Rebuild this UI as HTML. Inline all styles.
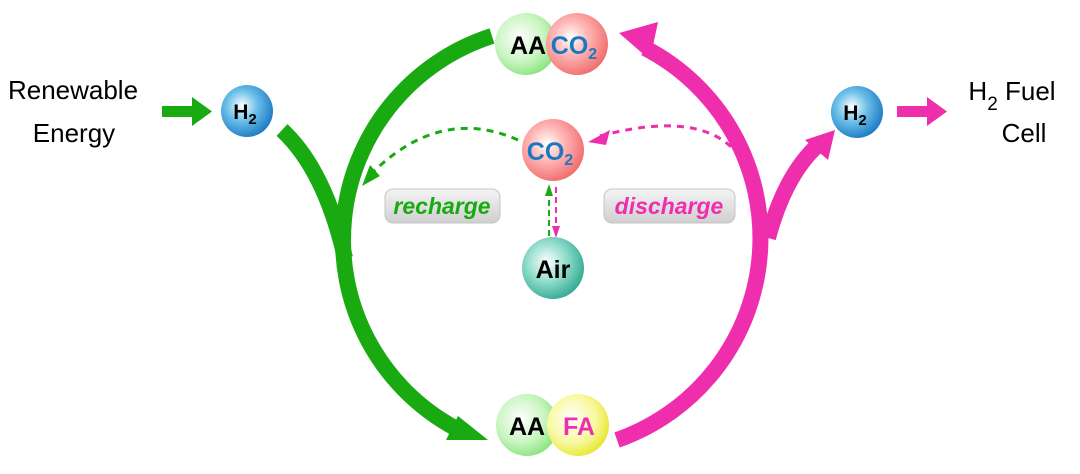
<!DOCTYPE html>
<html><head><meta charset="utf-8"><style>
html,body{margin:0;padding:0;background:#fff;}
svg{display:block;}
</style></head><body>
<svg width="1080" height="474" viewBox="0 0 1080 474" xmlns="http://www.w3.org/2000/svg">
<defs>
<radialGradient id="gGreen" cx="0.4" cy="0.4" r="0.65"><stop offset="0" stop-color="#ffffff"/><stop offset="0.6" stop-color="#c8f5c0"/><stop offset="1" stop-color="#86e37c"/></radialGradient>
<radialGradient id="gRed" cx="0.4" cy="0.4" r="0.65"><stop offset="0" stop-color="#ffffff"/><stop offset="0.45" stop-color="#ffb3b3"/><stop offset="1" stop-color="#f06a6a"/></radialGradient>
<radialGradient id="gYel" cx="0.4" cy="0.4" r="0.65"><stop offset="0" stop-color="#ffffff"/><stop offset="0.6" stop-color="#f8f8a0"/><stop offset="1" stop-color="#e6e62a"/></radialGradient>
<radialGradient id="gBlue" cx="0.4" cy="0.4" r="0.65"><stop offset="0" stop-color="#ffffff"/><stop offset="0.45" stop-color="#6cc0ea"/><stop offset="1" stop-color="#1a78c0"/></radialGradient>
<radialGradient id="gTeal" cx="0.4" cy="0.4" r="0.65"><stop offset="0" stop-color="#ffffff"/><stop offset="0.5" stop-color="#90dccb"/><stop offset="1" stop-color="#30a890"/></radialGradient>
<linearGradient id="gBox" x1="0" y1="0" x2="0" y2="1"><stop offset="0" stop-color="#f4f4f4"/><stop offset="1" stop-color="#cfcfcf"/></linearGradient>
</defs>

<path d="M 492 36 A 214 214 0 0 0 455 428" fill="none" stroke="#18aa10" stroke-width="16"/>
<polygon points="488,440 458,416 446,440" fill="#18aa10"/>
<path d="M 617 440 A 214 214 0 0 0 645 48" fill="none" stroke="#ee2ead" stroke-width="16"/>
<polygon points="619,33 658,22 650,60" fill="#ee2ead"/>

<path d="M 282 130 Q 325 170 345 258" fill="none" stroke="#18aa10" stroke-width="16"/>
<path d="M 768 238 Q 785 175 818 145" fill="none" stroke="#ee2ead" stroke-width="16"/>
<polygon points="835,130 805,140 828,160" fill="#ee2ead"/>

<rect x="162" y="106" width="30" height="11" fill="#18aa10"/>
<polygon points="192,97 212,111.5 192,126" fill="#18aa10"/>
<rect x="897" y="106" width="30" height="11" fill="#ee2ead"/>
<polygon points="927,97 947,111.5 927,126" fill="#ee2ead"/>

<path d="M 518 140 Q 440 105 370 175" fill="none" stroke="#18aa10" stroke-width="3" stroke-dasharray="7,6"/>
<polygon points="362,186 370,165 380,176" fill="#18aa10"/>
<path d="M 755 192 Q 735 100 600 136" fill="none" stroke="#ee2ead" stroke-width="3" stroke-dasharray="7,6"/>
<polygon points="588,142 610,130 606,145" fill="#ee2ead"/>
<path d="M 549 236 L 549 190" fill="none" stroke="#18aa10" stroke-width="2" stroke-dasharray="6,4"/>
<polygon points="549,184 545,196 553,196" fill="#18aa10"/>
<path d="M 556 187 L 556 232" fill="none" stroke="#ee2ead" stroke-width="2" stroke-dasharray="6,4"/>
<polygon points="556,238 552,226 560,226" fill="#ee2ead"/>

<rect x="385" y="189" width="115" height="34" rx="8" fill="url(#gBox)" stroke="#c4c4c4"/>
<text x="442" y="214" text-anchor="middle" font-family="Liberation Sans, sans-serif" font-size="23" font-weight="bold" font-style="italic" fill="#18aa10">recharge</text>
<rect x="604" y="189" width="131" height="34" rx="8" fill="url(#gBox)" stroke="#c4c4c4"/>
<text x="669" y="214" text-anchor="middle" font-family="Liberation Sans, sans-serif" font-size="23" font-weight="bold" font-style="italic" fill="#ee2ead">discharge</text>

<g font-family="Liberation Sans, sans-serif" font-weight="bold" text-anchor="middle">
<circle cx="526" cy="44" r="31" fill="url(#gGreen)"/>
<circle cx="577" cy="44" r="31" fill="url(#gRed)"/>
<text x="528" y="54" font-size="25" fill="#000">AA</text>
<text x="574" y="54" font-size="25" fill="#1a78c0">CO<tspan font-size="16" dy="5">2</tspan></text>

<circle cx="527" cy="425" r="31" fill="url(#gGreen)"/>
<circle cx="578" cy="425" r="31" fill="url(#gYel)"/>
<text x="527" y="435" font-size="25" fill="#000">AA</text>
<text x="579" y="435" font-size="25" fill="#ee2ead">FA</text>

<circle cx="553" cy="150" r="31" fill="url(#gRed)"/>
<text x="550" y="160" font-size="25" fill="#1a78c0">CO<tspan font-size="16" dy="5">2</tspan></text>

<circle cx="553" cy="268" r="31" fill="url(#gTeal)"/>
<text x="553" y="278" font-size="25" fill="#000">Air</text>

<circle cx="247" cy="111" r="26" fill="url(#gBlue)"/>
<text x="245" y="119" font-size="21" fill="#000">H<tspan font-size="15" dy="5">2</tspan></text>
<circle cx="857" cy="112" r="26" fill="url(#gBlue)"/>
<text x="855" y="120" font-size="21" fill="#000">H<tspan font-size="15" dy="5">2</tspan></text>
</g>

<g font-family="Liberation Sans, sans-serif" font-size="26" fill="#000" text-anchor="middle">
<text x="73" y="99">Renewable</text>
<text x="74" y="142">Energy</text>
<text x="1012" y="100">H<tspan font-size="19" dy="10">2</tspan><tspan dy="-10"> Fuel</tspan></text>
<text x="1024" y="142">Cell</text>
</g>
</svg>
</body></html>
